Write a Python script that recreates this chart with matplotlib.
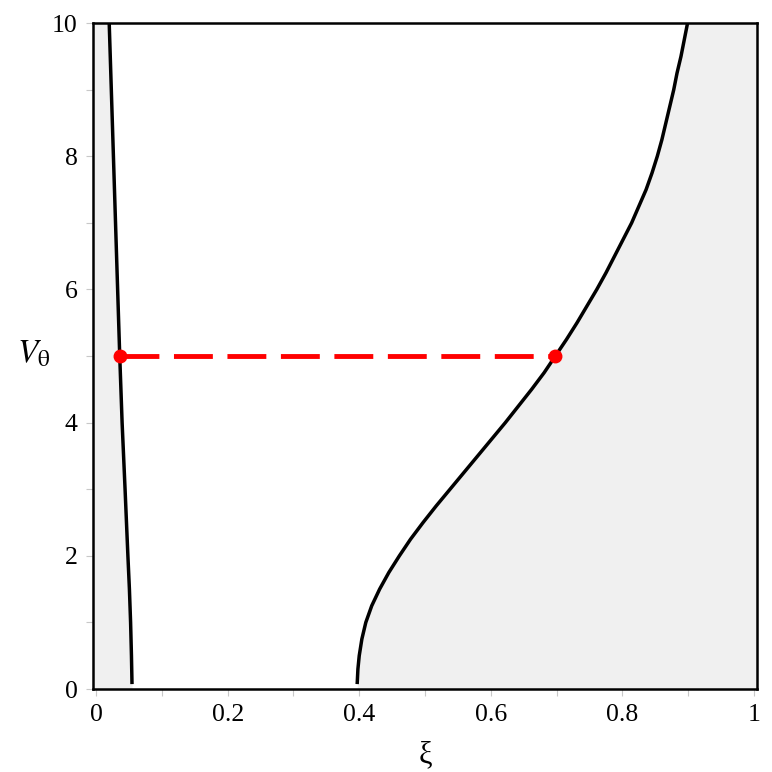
import matplotlib.pyplot as plt
import numpy as np

# left boundary curve (xi, V_theta)
left_xi = [0.0200, 0.0232, 0.0264, 0.0296, 0.0328, 0.0360, 0.0396, 0.0441, 0.0484,
           0.0507, 0.0525, 0.0538, 0.0546]
left_v = [10.0, 9.0, 8.0, 7.0, 6.0, 5.0, 4.0, 3.0, 2.0, 1.5, 1.0, 0.5, 0.1]

# right boundary curve
right_xi = [0.397, 0.398, 0.400, 0.404, 0.410, 0.419, 0.431, 0.445, 0.461, 0.478, 0.497,
            0.517, 0.538, 0.559, 0.580, 0.601, 0.622, 0.642, 0.662, 0.681, 0.698,
            0.715, 0.731, 0.746, 0.761, 0.775, 0.788, 0.801, 0.814, 0.825, 0.836,
            0.845, 0.853, 0.860, 0.866, 0.872, 0.878, 0.883, 0.889, 0.894, 0.899]
right_v = [0.1, 0.3, 0.5, 0.75, 1.0, 1.25, 1.5, 1.75, 2.0, 2.25, 2.5,
           2.75, 3.0, 3.25, 3.5, 3.75, 4.0, 4.25, 4.5, 4.75, 5.0,
           5.25, 5.5, 5.75, 6.0, 6.25, 6.5, 6.75, 7.0, 7.25, 7.5,
           7.75, 8.0, 8.25, 8.5, 8.75, 9.0, 9.25, 9.5, 9.75, 10.0]

# connecting line at V_theta = 5
dash_xi = [0.036, 0.698]
dash_v = [5.0, 5.0]

plt.rcParams['font.family'] = ['Liberation Serif', 'DejaVu Serif']
plt.rcParams['mathtext.fontset'] = 'stix'

fig = plt.figure(figsize=(7.72, 7.72), dpi=100)
ax = fig.add_axes([0.1205, 0.1075, 0.8601, 0.8625])

x0, x1 = -0.0046, 1.0046
shade = '#f0f0f0'
# shaded regions, extended to the bottom edge
lv = np.array([0.0] + left_v[::-1])
lx = np.array([left_xi[-1]] + left_xi[::-1])
ax.fill_betweenx(lv, x0, lx, color=shade, lw=0)
rv = np.array([0.0] + right_v)
rx = np.array([right_xi[0]] + right_xi)
ax.fill_betweenx(rv, rx, x1, color=shade, lw=0)

ax.plot(left_xi, left_v, color='black', lw=2.5, solid_joinstyle='round')
ax.plot(right_xi, right_v, color='black', lw=2.5, solid_joinstyle='round')
ax.plot(dash_xi, dash_v, color='red', lw=3.5, ls=(0, (8, 3)))
ax.plot(dash_xi, dash_v, 'o', color='red', ms=9)

ax.set_xlim(x0, x1)
ax.set_ylim(0, 10)
ax.set_xticks([0, 0.2, 0.4, 0.6, 0.8, 1])
ax.set_xticklabels(['0', '0.2', '0.4', '0.6', '0.8', '1'])
ax.set_xticks(np.arange(0.1, 1.0, 0.2), minor=True)
ax.set_yticks([0, 2, 4, 6, 8, 10])
ax.set_yticks([1, 3, 5, 7, 9], minor=True)
ax.tick_params(which='both', direction='out', length=5, width=0.8, color='#c8c8c8',
               labelsize=18.5, pad=6)
for s in ax.spines.values():
    s.set_linewidth(1.8)
    s.set_color('black')

ax.set_xlabel('ξ', fontsize=22, labelpad=10)
ax.set_ylabel(r'$V_{\mathrm{\theta}}$', fontsize=24, rotation=0)
ax.yaxis.set_label_coords(-0.09, 0.48)

fig.savefig('out.png', dpi=100)
